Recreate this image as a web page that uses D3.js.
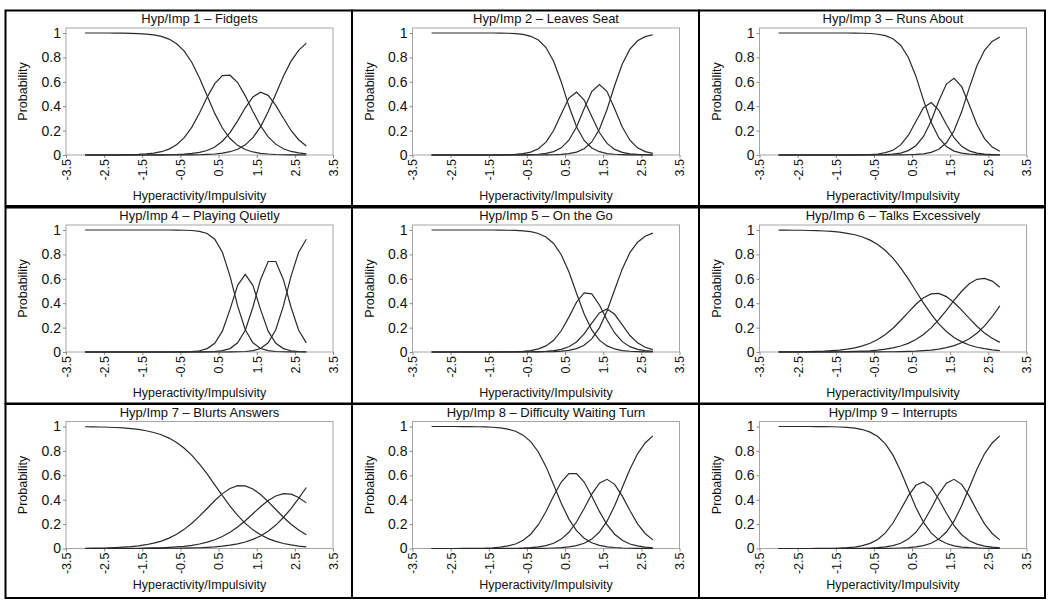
<!DOCTYPE html>
<html><head><meta charset="utf-8">
<script src="https://cdn.jsdelivr.net/npm/d3@7"></script>
<style>
body{margin:0;background:#fff;}
svg{display:block;}
text{font-family:"Liberation Sans",Arial,Helvetica,sans-serif;fill:#111;}
</style>
</head><body>
<svg id="chart" width="1050" height="600"></svg>
<script>
// ---------------- DATA ----------------
const thetaGrid = [-3.0,-2.8,-2.6,-2.4,-2.2,-2.0,-1.8,-1.6,-1.4,-1.2,-1.0,-0.8,-0.6,-0.4,-0.2,0.0,0.2,0.4,0.6,0.8,1.0,1.2,1.4,1.6,1.8,2.0,2.2,2.4,2.6,2.8];
const xTickValues = [-3.5,-2.5,-1.5,-0.5,0.5,1.5,2.5,3.5];
const xTickLabels = ["-3.5","-2.5","-1.5","-0.5","0.5","1.5","2.5","3.5"];
const yTickValues = [0,0.2,0.4,0.6,0.8,1];
const yTickLabels = ["0","0.2","0.4","0.6","0.8","1"];
const panelTitles = ["Hyp/Imp 1 \u2013 Fidgets","Hyp/Imp 2 \u2013 Leaves Seat","Hyp/Imp 3 \u2013 Runs About",
  "Hyp/Imp 4 \u2013 Playing Quietly","Hyp/Imp 5 \u2013 On the Go","Hyp/Imp 6 \u2013 Talks Excessively",
  "Hyp/Imp 7 \u2013 Blurts Answers","Hyp/Imp 8 \u2013 Difficulty Waiting Turn","Hyp/Imp 9 \u2013 Interrupts"];
const xAxisTitle = "Hyperactivity/Impulsivity";
const yAxisTitle = "Probability";

// Item 1 - Fidgets
const item1_cat0 = [1.000,1.000,1.000,1.000,0.999,0.999,0.997,0.995,0.991,0.984,0.972,0.950,0.912,0.851,0.758,0.632,0.485,0.341,0.221,0.135,0.079,0.045,0.025,0.014,0.008,0.004,0.002,0.001,0.001,0.000];
const item1_cat1 = [0.000,0.000,0.000,0.000,0.001,0.001,0.003,0.005,0.009,0.016,0.027,0.048,0.084,0.142,0.229,0.344,0.473,0.585,0.651,0.654,0.594,0.485,0.357,0.240,0.149,0.089,0.051,0.029,0.017,0.009];
const item1_cat2 = [0,0,0,0,0,0,0,0,0,0.001,0.001,0.002,0.004,0.007,0.013,0.021,0.037,0.066,0.113,0.184,0.280,0.387,0.476,0.515,0.489,0.407,0.301,0.201,0.125,0.074];
const item1_cat3 = [0,0,0,0,0,0,0,0,0,0,0,0,0,0.001,0.001,0.002,0.005,0.008,0.015,0.027,0.047,0.083,0.142,0.231,0.354,0.500,0.646,0.769,0.858,0.917];
// Item 2 - Leaves Seat
const item2_cat0 = [1,1,1,1,1,1,1,1,1,0.999,0.998,0.995,0.988,0.973,0.943,0.881,0.769,0.599,0.401,0.231,0.119,0.057,0.027,0.012,0.006,0.003,0.001,0.001,0.000,0.000];
const item2_cat1 = [0,0,0,0,0,0,0,0,0,0.001,0.002,0.005,0.011,0.024,0.051,0.105,0.201,0.337,0.467,0.515,0.451,0.316,0.184,0.095,0.046,0.022,0.010,0.005,0.002,0.001];
const item2_cat2 = [0,0,0,0,0,0,0,0,0,0,0,0.001,0.001,0.003,0.006,0.013,0.028,0.059,0.121,0.230,0.379,0.520,0.578,0.520,0.379,0.230,0.121,0.059,0.028,0.013];
const item2_cat3 = [0,0,0,0,0,0,0,0,0,0,0,0,0,0,0,0.001,0.002,0.005,0.011,0.024,0.051,0.107,0.211,0.373,0.570,0.746,0.868,0.936,0.970,0.986];
// Item 3 - Runs About
const item3_cat0 = [1,1,1,1,1,1,1,1,1,1,0.999,0.998,0.996,0.990,0.978,0.953,0.900,0.802,0.646,0.450,0.269,0.142,0.069,0.032,0.015,0.007,0.003,0.001,0.001,0.000];
const item3_cat1 = [0,0,0,0,0,0,0,0,0,0,0.001,0.002,0.004,0.008,0.019,0.039,0.083,0.160,0.274,0.388,0.430,0.368,0.250,0.142,0.071,0.034,0.016,0.007,0.003,0.001];
const item3_cat2 = [0,0,0,0,0,0,0,0,0,0,0,0,0.001,0.002,0.003,0.007,0.016,0.036,0.076,0.152,0.279,0.443,0.581,0.628,0.560,0.409,0.250,0.134,0.065,0.030];
const item3_cat3 = [0,0,0,0,0,0,0,0,0,0,0,0,0,0,0,0,0.001,0.002,0.005,0.010,0.022,0.047,0.100,0.198,0.354,0.550,0.731,0.858,0.931,0.968];
// Item 4 - Playing Quietly
const item4_cat0 = [1,1,1,1,1,1,1,1,1,1,1,1,0.999,0.998,0.996,0.989,0.971,0.924,0.818,0.622,0.378,0.182,0.076,0.029,0.011,0.004,0.002,0.001,0.000,0.000];
const item4_cat1 = [0,0,0,0,0,0,0,0,0,0,0,0,0.001,0.001,0.004,0.010,0.028,0.072,0.171,0.349,0.546,0.636,0.546,0.349,0.171,0.072,0.028,0.010,0.004,0.002];
const item4_cat2 = [0,0,0,0,0,0,0,0,0,0,0,0,0,0,0,0.001,0.002,0.004,0.011,0.028,0.075,0.178,0.367,0.593,0.742,0.742,0.593,0.367,0.178,0.075];
const item4_cat3 = [0,0,0,0,0,0,0,0,0,0,0,0,0,0,0,0,0,0,0,0.001,0.002,0.004,0.011,0.029,0.076,0.182,0.378,0.622,0.818,0.924];
// Item 5 - On the Go
const item5_cat0 = [1,1,1,1,1,1,1,1,1,0.999,0.998,0.997,0.993,0.986,0.971,0.943,0.890,0.797,0.657,0.482,0.312,0.181,0.097,0.050,0.025,0.012,0.006,0.003,0.001,0.001];
const item5_cat1 = [0,0,0,0,0,0,0,0,0,0.001,0.002,0.003,0.006,0.012,0.026,0.050,0.096,0.174,0.286,0.408,0.485,0.476,0.385,0.262,0.156,0.085,0.044,0.022,0.011,0.005];
const item5_cat2 = [0,0,0,0,0,0,0,0,0,0,0,0,0.001,0.002,0.003,0.005,0.011,0.022,0.043,0.082,0.148,0.236,0.320,0.352,0.309,0.222,0.135,0.075,0.039,0.020];
const item5_cat3 = [0,0,0,0,0,0,0,0,0,0,0,0,0,0,0.001,0.002,0.003,0.007,0.014,0.028,0.055,0.107,0.198,0.336,0.510,0.681,0.815,0.900,0.949,0.974];
// Item 6 - Talks Excessively
const item6_cat0 = [0.999,0.999,0.998,0.998,0.996,0.995,0.992,0.988,0.982,0.973,0.961,0.943,0.917,0.881,0.832,0.769,0.690,0.599,0.500,0.401,0.310,0.231,0.168,0.119,0.083,0.057,0.039,0.027,0.018,0.012];
const item6_cat1 = [0.001,0.001,0.002,0.002,0.003,0.005,0.007,0.011,0.016,0.024,0.034,0.050,0.072,0.103,0.144,0.195,0.258,0.325,0.391,0.445,0.476,0.480,0.454,0.406,0.343,0.275,0.211,0.155,0.112,0.079];
const item6_cat2 = [0,0,0,0,0.001,0.001,0.001,0.001,0.002,0.003,0.005,0.007,0.010,0.015,0.023,0.034,0.049,0.071,0.102,0.143,0.198,0.265,0.342,0.423,0.498,0.559,0.596,0.604,0.581,0.531];
const item6_cat3 = [0,0,0,0,0,0,0,0,0,0,0,0.001,0.001,0.001,0.002,0.002,0.003,0.005,0.007,0.011,0.016,0.024,0.036,0.052,0.076,0.109,0.154,0.214,0.289,0.378];
// Item 7 - Blurts Answers
const item7_cat0 = [0.998,0.997,0.996,0.994,0.992,0.988,0.983,0.976,0.965,0.951,0.932,0.905,0.869,0.822,0.763,0.692,0.611,0.522,0.433,0.348,0.271,0.206,0.153,0.112,0.081,0.058,0.041,0.029,0.020,0.014];
const item7_cat1 = [0.002,0.003,0.004,0.005,0.008,0.011,0.015,0.022,0.031,0.044,0.061,0.085,0.116,0.157,0.207,0.265,0.328,0.393,0.450,0.492,0.515,0.513,0.488,0.443,0.384,0.320,0.256,0.199,0.151,0.112];
const item7_cat2 = [0,0,0,0.001,0.001,0.001,0.002,0.002,0.003,0.005,0.006,0.009,0.013,0.018,0.026,0.037,0.052,0.072,0.098,0.133,0.176,0.228,0.285,0.342,0.393,0.430,0.449,0.445,0.418,0.374];
const item7_cat3 = [0,0,0,0,0,0,0,0,0.001,0.001,0.001,0.002,0.002,0.003,0.005,0.006,0.009,0.013,0.019,0.027,0.038,0.053,0.075,0.103,0.142,0.192,0.254,0.327,0.411,0.500];
// Item 8 - Difficulty Waiting Turn
const item8_cat0 = [1,1,1,1,0.999,0.999,0.998,0.997,0.994,0.988,0.978,0.961,0.929,0.876,0.791,0.671,0.523,0.371,0.241,0.146,0.084,0.047,0.026,0.014,0.008,0.004,0.002,0.001,0.001,0.000];
const item8_cat1 = [0,0,0,0,0.001,0.001,0.002,0.003,0.006,0.011,0.021,0.037,0.067,0.117,0.195,0.303,0.430,0.545,0.613,0.613,0.545,0.430,0.304,0.195,0.117,0.067,0.037,0.021,0.011,0.006];
const item8_cat2 = [0,0,0,0,0,0,0,0,0,0.001,0.001,0.002,0.004,0.007,0.013,0.024,0.043,0.077,0.133,0.217,0.328,0.446,0.535,0.567,0.526,0.429,0.311,0.202,0.123,0.071];
const item8_cat3 = [0,0,0,0,0,0,0,0,0,0,0,0,0,0.001,0.001,0.002,0.004,0.007,0.013,0.024,0.043,0.077,0.135,0.224,0.350,0.500,0.650,0.776,0.865,0.923];
// Item 9 - Interrupts
const item9_cat0 = [1,1,1,1,1,0.999,0.999,0.998,0.996,0.993,0.986,0.975,0.954,0.918,0.858,0.765,0.636,0.485,0.336,0.214,0.128,0.073,0.041,0.022,0.012,0.007,0.004,0.002,0.001,0.001];
const item9_cat1 = [0,0,0,0,0,0.001,0.001,0.002,0.004,0.007,0.012,0.023,0.042,0.074,0.128,0.209,0.317,0.431,0.518,0.545,0.501,0.404,0.289,0.187,0.113,0.064,0.036,0.020,0.011,0.006];
const item9_cat2 = [0,0,0,0,0,0,0,0,0,0.001,0.001,0.002,0.004,0.007,0.013,0.024,0.043,0.077,0.133,0.217,0.328,0.446,0.535,0.567,0.526,0.429,0.311,0.202,0.123,0.071];
const item9_cat3 = [0,0,0,0,0,0,0,0,0,0,0,0,0,0.001,0.001,0.002,0.004,0.007,0.013,0.024,0.043,0.077,0.135,0.224,0.350,0.500,0.650,0.776,0.865,0.923];

const panelSeries = [
  [item1_cat0,item1_cat1,item1_cat2,item1_cat3],
  [item2_cat0,item2_cat1,item2_cat2,item2_cat3],
  [item3_cat0,item3_cat1,item3_cat2,item3_cat3],
  [item4_cat0,item4_cat1,item4_cat2,item4_cat3],
  [item5_cat0,item5_cat1,item5_cat2,item5_cat3],
  [item6_cat0,item6_cat1,item6_cat2,item6_cat3],
  [item7_cat0,item7_cat1,item7_cat2,item7_cat3],
  [item8_cat0,item8_cat1,item8_cat2,item8_cat3],
  [item9_cat0,item9_cat1,item9_cat2,item9_cat3]
];

// ---------------- LAYOUT ----------------
const colX = [5.5, 352, 699];
const colW = [346.5, 347, 346];
const rowY = [10.5, 207.5, 404];
const rowH = [195.5, 196, 194];
const xLabelOffset = [189, 189, 185];

const svg = d3.select("#chart");

panelTitles.forEach((title, i) => {
  const c = i % 3, r = Math.floor(i / 3);
  const px = colX[c], py = rowY[r];
  const g = svg.append("g");

  // panel border
  g.append("rect").attr("x", px).attr("y", py).attr("width", colW[c]).attr("height", rowH[r])
    .attr("fill", "none").attr("stroke", "#000").attr("stroke-width", 2);

  const x = d3.scaleLinear().domain([-3.5, 3.5]).range([px + 60.5, px + 327.5]);
  const y = d3.scaleLinear().domain([0, 1]).range([py + 144.5, py + 22.5]);
  const top = y(1.041);

  // plot frame
  g.append("rect").attr("x", x(-3.5)).attr("y", top)
    .attr("width", x(3.5) - x(-3.5)).attr("height", y(0) - top)
    .attr("fill", "none").attr("stroke", "#a6a6a6").attr("stroke-width", 1);

  // y axis
  const ya = g.append("g").attr("transform", `translate(${x(-3.5)},0)`)
    .call(d3.axisLeft(y).tickValues(yTickValues).tickFormat((d, k) => yTickLabels[k]).tickSize(3).tickPadding(2));
  ya.select(".domain").remove();
  ya.selectAll("line").attr("stroke", "#8a8a8a");
  ya.selectAll("text").attr("font-size", 14).attr("fill", "#111")
    .attr("font-family", "Liberation Sans, Arial, sans-serif");

  // x axis
  const xa = g.append("g").attr("transform", `translate(0,${y(0)})`)
    .call(d3.axisBottom(x).tickValues(xTickValues).tickFormat((d, k) => xTickLabels[k]).tickSize(3));
  xa.select(".domain").remove();
  xa.selectAll("line").attr("stroke", "#8a8a8a");
  xa.selectAll("text")
    .attr("transform", "rotate(-90)")
    .attr("x", -4).attr("y", 0).attr("dy", "0.35em")
    .attr("text-anchor", "end")
    .attr("font-size", 12.5).attr("fill", "#111")
    .attr("font-family", "Liberation Sans, Arial, sans-serif");

  // curves
  const line = d3.line().x((d, k) => x(thetaGrid[k])).y(d => y(d));
  g.selectAll("path.curve").data(panelSeries[i]).enter().append("path")
    .attr("class", "curve")
    .attr("d", line)
    .attr("fill", "none").attr("stroke", "#2a2a2a").attr("stroke-width", 1.2);

  // titles
  g.append("text").attr("x", (x(-3.5) + x(3.5)) / 2).attr("y", py + 12.5)
    .attr("text-anchor", "middle").attr("font-size", 13).text(title);
  g.append("text").attr("x", (x(-3.5) + x(3.5)) / 2).attr("y", py + xLabelOffset[r])
    .attr("text-anchor", "middle").attr("font-size", 12.5).text(xAxisTitle);
  g.append("text")
    .attr("transform", `translate(${px + 17.5},${(top + y(0)) / 2}) rotate(-90)`)
    .attr("text-anchor", "middle").attr("dy", "0.35em").attr("font-size", 12.5).text(yAxisTitle);
});
</script>
</body></html>
